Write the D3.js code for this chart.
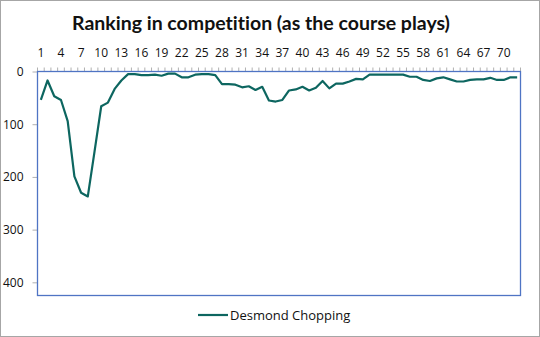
<!DOCTYPE html>
<html>
<head>
<meta charset="utf-8">
<script src="https://cdn.jsdelivr.net/npm/d3@7"></script>
<style>
  html, body { margin: 0; padding: 0; background: #fff; }
  svg { display: block; }
  text { font-family: "Open Sans", sans-serif; fill: #111; font-variant-ligatures: none; }
</style>
</head>
<body>
<div id="chart"></div>
<script>
// Round-by-round ranking for one competitor
const rounds = d3.range(1, 73);
const ranking = [
  54, 17, 47, 54, 94, 199, 230, 237, 152, 66,
  59, 33, 17, 5, 5, 7, 7, 6, 8, 4,
  4, 11, 11, 6, 5, 5, 7, 24, 24, 25,
  30, 28, 35, 29, 55, 57, 54, 36, 34, 29,
  36, 31, 18, 32, 23, 23, 19, 14, 15, 6,
  6, 6, 6, 6, 6, 10, 10, 16, 18, 13,
  11, 15, 19, 19, 16, 15, 15, 12, 16, 16,
  11, 11
];
const yTicks = [0, 100, 200, 300, 400];
const seriesName = "Desmond Chopping";
const titleText = "Ranking in competition (as the course plays)";

const W = 540, H = 337;
const plot = { left: 37.5, right: 520.5, top: 71.5, bottom: 295.5 };

const svg = d3.select("#chart").append("svg")
  .attr("width", W).attr("height", H);

svg.append("rect")
  .attr("x", 0.5).attr("y", 0.5)
  .attr("width", W - 1).attr("height", H - 1)
  .attr("fill", "#fff").attr("stroke", "#a6a6a6");

svg.append("text")
  .attr("x", 261).attr("y", 30)
  .attr("text-anchor", "middle")
  .style("font-family", "Lato, 'Open Sans', sans-serif")
  .style("font-size", "19.5px").style("font-weight", "bold")
  .text(titleText);

// Band scale for category boundaries, point positions at band centres
const xBand = d3.scaleBand().domain(rounds).range([plot.left, plot.right]).padding(0);
const xPos = d => xBand(d) + xBand.bandwidth() / 2;
const y = d3.scaleLinear().domain([0, 425]).range([plot.top, plot.bottom]);

// Top category axis: minor marks at each boundary, labels every third round
const gx = svg.append("g");
const bounds = rounds.map(r => xBand(r)).concat([plot.right]);
gx.selectAll("line.tick").data(bounds).join("line")
  .attr("x1", d => d).attr("x2", d => d)
  .attr("y1", plot.top).attr("y2", plot.top - 4)
  .attr("stroke", "#b0b0b0").attr("stroke-width", 1);
gx.selectAll("text").data(rounds.filter(r => (r - 1) % 3 === 0)).join("text")
  .attr("x", d => xPos(d)).attr("y", 57)
  .attr("text-anchor", "middle")
  .style("font-size", "12px")
  .text(d => d);

// Left value axis
const gy = svg.append("g").attr("transform", `translate(${plot.left},0)`);
const yAxis = d3.axisLeft(y).tickValues(yTicks).tickSize(5).tickPadding(9);
gy.call(yAxis);
gy.select(".domain").remove();
gy.selectAll(".tick line").attr("stroke", "#b0b0b0");
gy.selectAll(".tick text")
  .style("font-size", "12px").style("font-family", "'Open Sans', sans-serif")
  .attr("fill", "#111");

// Plot frame
svg.append("rect")
  .attr("x", plot.left).attr("y", plot.top)
  .attr("width", plot.right - plot.left).attr("height", plot.bottom - plot.top)
  .attr("fill", "none").attr("stroke", "#4f74c4").attr("stroke-width", 1.3);

const line = d3.line()
  .x((d, i) => xPos(rounds[i]))
  .y(d => y(d));

svg.append("path")
  .datum(ranking)
  .attr("d", line)
  .attr("fill", "none")
  .attr("stroke", "#0d6660")
  .attr("stroke-width", 2.2)
  .attr("stroke-linejoin", "round");

// Legend
const lg = svg.append("g");
lg.append("line")
  .attr("x1", 198).attr("x2", 228).attr("y1", 315).attr("y2", 315)
  .attr("stroke", "#0d6660").attr("stroke-width", 2.2);
lg.append("text")
  .attr("x", 230).attr("y", 319.5)
  .style("font-size", "13px")
  .text(seriesName);
</script>
</body>
</html>
